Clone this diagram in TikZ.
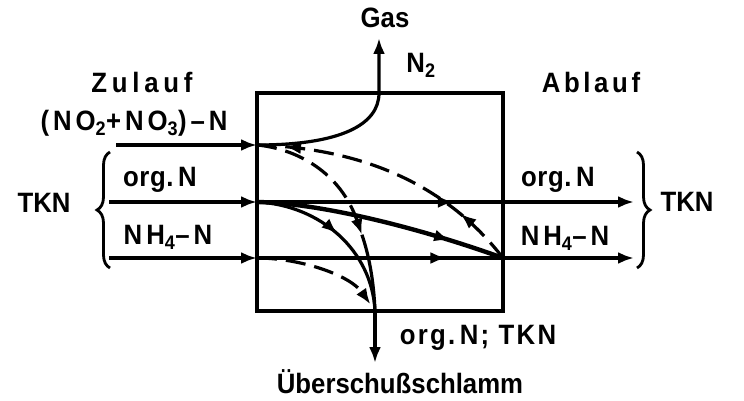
\documentclass[tikz,border=0pt]{standalone}
\usepackage{fontspec}
\setmainfont{Liberation Sans}[FakeStretch=0.92]
\usetikzlibrary{arrows.meta,decorations.markings,decorations.pathreplacing}
\newcommand{\lsp}[2]{{\addfontfeature{LetterSpace=#1}#2}}
\begin{document}
\begin{tikzpicture}[x=1pt,y=-1pt,
  >={Latex[length=16pt,width=12pt]},
  flow/.style={line width=3.2pt},
  thickflow/.style={line width=4.4pt},
  conv/.style={line width=3.2pt, dash pattern=on 20pt off 9pt},
  lbl/.style={font=\fontsize{28}{30}\selectfont\bfseries, inner sep=0pt},
  midarrow/.style={postaction={decorate}, decoration={markings, mark=at position #1 with {\pgfsetdash{}{0pt}\arrow{>}}}},
  twoarrows/.style={postaction={decorate}, decoration={markings,
     mark=at position 0.22 with {\pgfsetdash{}{0pt}\arrow{>}},
     mark=at position 0.9 with {\pgfsetdash{}{0pt}\arrow{>}}}},
  reactor/.style={draw, line width=3.4pt, minimum width=246pt, minimum height=218pt, inner sep=0pt},
  tkbrace/.style={decorate, decoration={brace, amplitude=13pt}, line width=2.8pt}
]
\useasboundingbox (0,0) rectangle (744,401);

\node[reactor] (R) at (380,202) {};

\coordinate (jN) at (257,145);
\coordinate (jO) at (257,202);
\coordinate (jH) at (257,258);
\coordinate (oO) at (503,202);
\coordinate (oH) at (503,258);
\coordinate (gT) at (379,93);
\coordinate (gE) at (379,38);
\coordinate (sB) at (375,311);
\coordinate (sE) at (375,363);
\coordinate (iN) at (116,145);
\coordinate (iO) at (109,202);
\coordinate (iH) at (109,258);
\coordinate (eO) at (634,202);
\coordinate (eH) at (634,258);
\coordinate (mA) at (361.9,234.7);
\coordinate (bL1) at (110,268);
\coordinate (bL2) at (110,152);
\coordinate (bR1) at (637,152);
\coordinate (bR2) at (637,268);

% inflow
\draw[flow,->] (iN) -- (jN);
\draw[flow,->] (iO) -- (jO);
\draw[flow,->] (iH) -- (jH);
% through the reactor
\draw[flow,midarrow=0.8] (jO) -- (oO);
\draw[flow,midarrow=0.77] (jH) -- (oH);
% outflow
\draw[flow,->] (oO) -- (eO);
\draw[flow,->] (oH) -- (eH);
% N2 to gas
\draw[flow,->] (jN) .. controls (340,145) and (379,125) .. (gT) -- (gE);
% nitrification
\draw[conv,twoarrows] (oH) .. controls (445,183) and (360,148) .. (jN);
% nitrate to sludge
\draw[conv,->] (jN) .. controls (296.75,148.75) and (340.44,172.19) .. (mA);
\draw[flow] (mA) .. controls (369.06,255.56) and (373.75,280.75) .. (sB);
% org N to sludge
\draw[flow,midarrow=0.5] (jO) .. controls (320,205) and (372,250) .. (sB);
% NH4 to sludge
\draw[conv,->,shorten >=8pt] (jH) .. controls (300,258) and (350,275) .. (sB);
% ammonification
\draw[thickflow,midarrow=0.78] (jO) .. controls (320,203) and (420,228) .. (oH);
% sludge
\draw[flow,->] (sB) -- (sE);

% braces
\draw[tkbrace] (bL1) -- (bL2);
\draw[tkbrace] (bR1) -- (bR2);

% labels
\node[lbl] (gas) at (385,18) {Gas};
\node[lbl] (n2) at (421,65) {N\textsubscript{2}};
\node[lbl] (zu) at (142,82) {\lsp{17}{Zulauf}};
\node[lbl] (ab) at (591,82) {\lsp{13}{Ablauf}};
\node[lbl] (no) at (134,123) {\lsp{14}{(NO\textsubscript{2}+NO\textsubscript{3})–N}};
\node[lbl] (tknl) at (44,203) {TKN};
\node[lbl] (onl) at (160,180) {\lsp{2}{org.\,N}};
\node[lbl] (nhl) at (168,237) {\lsp{14}{NH\textsubscript{4}–N}};
\node[lbl] (onr) at (558,180) {\lsp{2}{org.\,N}};
\node[lbl] (nhr) at (565,238) {\lsp{14}{NH\textsubscript{4}–N}};
\node[lbl] (tknr) at (687,202) {TKN};
\node[lbl] (sl) at (478,338) {\lsp{8}{org.\,N; TKN}};
\node[lbl] (ue) at (400,382) {Überschußschlamm};
\end{tikzpicture}
\end{document}
